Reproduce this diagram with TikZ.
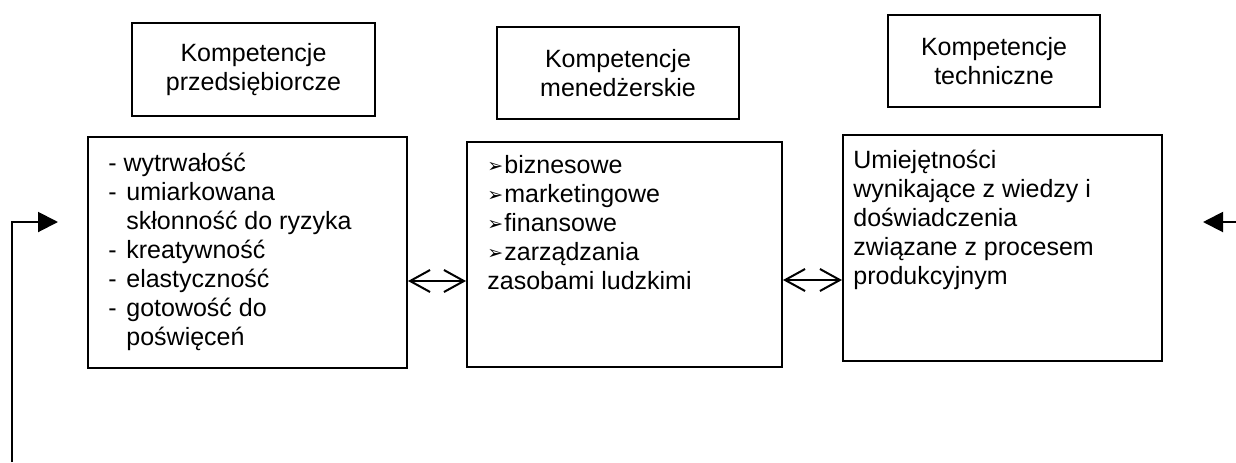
\documentclass[tikz,border=0pt]{standalone}
\usepackage{fontspec}
\setmainfont{Liberation Sans}
\newfontfamily\symfont{DejaVu Sans}
\usetikzlibrary{arrows.meta}
% list markers
\newcommand\dashitem{\makebox[9pt][l]{-}}
\newcommand\dashcont{\hspace*{9pt}}
\newcommand\arrowitem{\makebox[8.5pt][l]{\raisebox{0.3pt}{\symfont\fontsize{9.5pt}{9.5pt}\selectfont ➢}}}
\begin{document}
\begin{tikzpicture}[x=0.5pt,y=-0.5pt,
  txt/.style={inner sep=0pt, font=\fontsize{12.5pt}{14.5pt}\selectfont},
  box/.style={draw, line width=1pt, inner sep=0pt},
  dblarrow/.style={line width=1pt,
    {Straight Barb[length=10pt,width=11pt,line width=1pt]}-{Straight Barb[length=10pt,width=11pt,line width=1pt]}},
  tri/.style={line width=1pt, -{Triangle[length=10pt,width=10pt]}}]
\useasboundingbox (0,0) rectangle (1236,462);

% headings
\node[box, txt, align=center, minimum width=121.5pt, minimum height=46.5pt] (A) at (253.5,69.5) {Kompetencje\\przedsiębiorcze};
\node[box, txt, align=center, minimum width=121pt, minimum height=46pt] (B) at (618,73) {Kompetencje\\menedżerskie};
\node[box, txt, align=center, minimum width=106pt, minimum height=46pt] (C) at (994,61) {Kompetencje\\techniczne};

% content boxes
\node[box, minimum width=159.5pt, minimum height=115.5pt] (D) at (247.5,252.5) {};
\node[box, minimum width=157.5pt, minimum height=112.5pt] (E) at (624.5,254.5) {};
\node[box, minimum width=159.5pt, minimum height=113pt] (F) at (1002.5,248) {};

\node[txt, anchor=base west] (Dtext) at (108,171) {\parbox[t]{155pt}{\raggedright
- wytrwałość\\
\dashitem umiarkowana\\
\dashcont skłonność do ryzyka\\
\dashitem kreatywność\\
\dashitem elastyczność\\
\dashitem gotowość do\\
\dashcont poświęceń}};

\node[txt, anchor=base west] (Etext) at (487,173) {\parbox[t]{150pt}{\raggedright
\arrowitem biznesowe\\
\arrowitem marketingowe\\
\arrowitem finansowe\\
\arrowitem zarządzania\\
zasobami ludzkimi}};

\node[txt, anchor=base west] (Ftext) at (853,168) {\parbox[t]{150pt}{\raggedright
Umiejętności\\
wynikające z wiedzy i\\
doświadczenia\\
związane z procesem\\
produkcyjnym}};

% links between the boxes
\coordinate (h1) at (0,281);
\coordinate (h2) at (0,280);
\draw[dblarrow] (h1 -| D.east) -- (h1 -| E.west);
\draw[dblarrow] (h2 -| E.east) -- (h2 -| F.west);

% loose arrows at both sides
\coordinate (fbStart) at (12,462);
\coordinate (fbTip) at (58,222);
\draw[tri] (fbStart) |- (fbTip);
\coordinate (rStart) at (1236,222);
\coordinate (rTip) at (1203,222);
\draw[tri] (rStart) -- (rTip);
\end{tikzpicture}
\end{document}
